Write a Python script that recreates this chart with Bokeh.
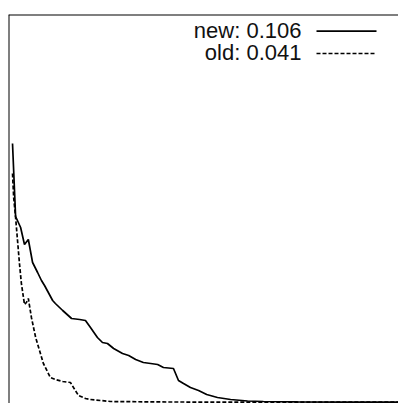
from bokeh.plotting import figure
from bokeh.models import Label, Arrow, Span, Range1d
from bokeh.embed import file_html
from bokeh.resources import INLINE

# rank positions and values
new_x = [0, 0.8, 2.1, 3.1, 4.1, 5.2, 6.5, 7.5, 8.3, 10.4, 11.1, 13.0, 15.3, 17.4, 18.9,
         20.2, 22.0, 23.3, 24.6, 26.2, 28.5, 30.1, 31.9, 33.9, 35.8, 37.6, 39.1, 41.7,
         43.0, 44.3, 46.1, 48.2, 50.3, 53.1, 56.5, 60.9, 65.0, 73.8, 86.0, 100.0]
new_y = [0.259, 0.186, 0.175, 0.158, 0.163, 0.140, 0.130, 0.122, 0.117, 0.102, 0.099,
         0.092, 0.084, 0.083, 0.082, 0.075, 0.065, 0.060, 0.059, 0.054, 0.049, 0.047,
         0.043, 0.040, 0.039, 0.038, 0.035, 0.034, 0.022, 0.019, 0.015, 0.012, 0.008,
         0.005, 0.003, 0.0015, 0.001, 0.0006, 0.0004, 0.0003]

old_x = [0, 0.3, 0.8, 1.3, 1.8, 2.3, 3.1, 3.6, 4.1, 4.9, 6.0, 7.0, 8.0, 9.8, 11.1,
         13.0, 15.0, 15.8, 17.1, 18.9, 20.2, 25.4, 40.0, 60.0, 80.0, 100.0]
old_y = [0.229, 0.205, 0.185, 0.162, 0.139, 0.119, 0.098, 0.100, 0.104, 0.085, 0.065,
         0.052, 0.039, 0.025, 0.023, 0.021, 0.020, 0.015, 0.007, 0.004, 0.003, 0.001,
         0.0005, 0.0004, 0.0003, 0.0003]

legend_labels = ["new: 0.106", "old: 0.041"]
legend_dashes = ["solid", "4 2"]

x_range = Range1d(-1.04, 100.0)
y_range = Range1d(-0.001, 0.388)

p = figure(width=398, height=403, output_backend="svg", toolbar_location=None,
           x_range=x_range, y_range=y_range,
           x_axis_location=None, y_axis_location=None,
           min_border_left=8, min_border_top=14, min_border_right=0, min_border_bottom=0)
p.outline_line_color = None
p.xgrid.visible = False
p.ygrid.visible = False
p.background_fill_color = "white"
p.border_fill_color = "white"

p.line(new_x, new_y, line_color="black", line_width=1.7)
p.line(old_x, old_y, line_color="black", line_width=1.7, line_dash="4 2")

# frame edges (left and top visible)
p.add_layout(Span(location=x_range.start, dimension="height", line_color="black", line_width=2))
p.add_layout(Span(location=y_range.end, dimension="width", line_color="black", line_width=2))

# legend: label then line sample
base_y = [372.7, 351.0]
line_y = [372.3, 350.0]
for lab, dash, by, ly in zip(legend_labels, legend_dashes, base_y, line_y):
    p.add_layout(Label(x=293, y=by, x_units="screen", y_units="screen", text=lab,
                       text_align="right", text_baseline="alphabetic",
                       text_font="Liberation Sans", text_font_size="22px", text_color="#111111"))
    p.add_layout(Arrow(x_start=308, y_start=ly, x_end=368, y_end=ly,
                       start_units="screen", end_units="screen", start=None, end=None,
                       line_color="black", line_width=1.7, line_dash=dash))

open("out.html", "w").write(file_html(p, INLINE))
